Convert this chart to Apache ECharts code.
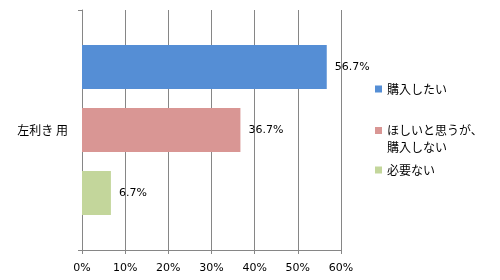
<!DOCTYPE html>
<html><head><meta charset="utf-8">
<script src="https://cdn.jsdelivr.net/npm/echarts@6/dist/echarts.min.js"></script>
<style>html,body{margin:0;padding:0;background:#fff}#c{width:500px;height:280px}</style>
</head><body><div id="c"></div>
<script>
const categories = ['左利き 用'];
const seriesNames = ['購入したい', 'ほしいと思うが、\n購入しない', '必要ない'];
const seriesValues = [[56.7], [36.7], [6.7]];
const seriesColors = ['#558ED5', '#D99694', '#C3D69B'];
const xTicks = { min: 0, max: 60, interval: 10 };

const chart = echarts.init(document.getElementById('c'), null, { renderer: 'canvas' });
const cjk = '"Noto Sans CJK JP", sans-serif';
const num = '"DejaVu Sans", sans-serif';
const legendTops = [81, 105, 162];
const option = {
  animation: false,
  grid: { left: 82, right: 159, top: 10, bottom: 30, containLabel: false },
  xAxis: {
    type: 'value', min: xTicks.min, max: xTicks.max, interval: xTicks.interval,
    axisLine: { show: true, lineStyle: { color: '#868686', width: 1 } },
    axisTick: { show: true, length: 4, lineStyle: { color: '#868686' } },
    splitLine: { show: true, lineStyle: { color: '#868686', width: 1 } },
    axisLabel: { formatter: '{value}%', color: '#000', fontFamily: num, fontSize: 11, margin: 13 }
  },
  yAxis: {
    type: 'category', data: categories, inverse: true,
    axisLine: { show: true, lineStyle: { color: '#868686', width: 1 } },
    axisTick: { show: true, length: 4, lineStyle: { color: '#868686' } },
    axisLabel: { color: '#000', fontFamily: cjk, fontSize: 12, margin: 14 }
  },
  legend: seriesNames.map((n, i) => ({
    data: [n], orient: 'vertical', left: 375, top: legendTops[i], padding: 0,
    itemWidth: 7, itemHeight: 7, icon: 'rect', selectedMode: false,
    formatter: i === 1 ? (name => ' \n' + name) : (name => name),
    textStyle: { color: '#000', fontFamily: cjk, fontSize: 12, lineHeight: i === 1 ? 17 : 16 }
  })),
  series: seriesNames.map((n, i) => ({
    name: n, type: 'bar', data: seriesValues[i],
    barCategoryGap: '29.2%', barGap: '43.2%',
    itemStyle: { color: seriesColors[i] },
    label: { show: true, position: 'right', distance: 8, formatter: '{c}%', color: '#000', fontFamily: num, fontSize: 11 }
  }))
};
chart.setOption(option);
</script></body></html>
